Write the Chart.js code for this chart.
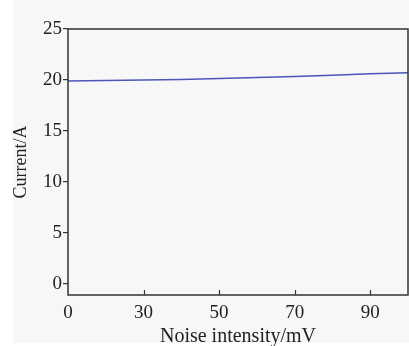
<!DOCTYPE html>
<html>
<head>
<meta charset="utf-8">
<script src="https://cdn.jsdelivr.net/npm/chart.js@4"></script>
<style>
  html, body { margin: 0; padding: 0; background: #ffffff; }
  #wrap { width: 409px; height: 346px; }
</style>
</head>
<body>
<div id="wrap"><canvas id="currentChart" width="409" height="346"></canvas></div>
<script>
// x tick labels sit on evenly spaced slots (slot index = position on axis)
const xTickLabels = ['0', '30', '50', '70', '90'];
const xSlots = [0, 0.5, 1, 1.5, 2, 2.5, 3, 3.5, 4, 4.5];
const currentValues = [19.9, 19.95, 20.0, 20.05, 20.15, 20.25, 20.35, 20.45, 20.6, 20.7];

const serif = '"Liberation Serif", "DejaVu Serif", serif';
const frameColor = '#333333';

// background panel + box frame + inward x ticks
const framePlugin = {
    id: 'frame',
    beforeDraw(chart) {
        const ctx = chart.ctx;
        ctx.save();
        ctx.fillStyle = '#f7f7f7';
        ctx.fillRect(13, 0, chart.width - 13, 343);
        ctx.restore();
    },
    afterDraw(chart) {
        const { ctx, chartArea: { left, top, right, bottom }, scales: { x } } = chart;
        ctx.save();
        ctx.strokeStyle = frameColor;
        ctx.lineWidth = 1.5;
        ctx.strokeRect(left, top, right - left, bottom - top);
        ctx.lineWidth = 1.2;
        xTickLabels.forEach((_, i) => {
            if (i === 0) return;
            const px = Math.round(x.getPixelForValue(i)) + 0.5;
            ctx.beginPath();
            ctx.moveTo(px, bottom);
            ctx.lineTo(px, bottom - 5);
            ctx.stroke();
        });
        ctx.restore();
    }
};

const ctx = document.getElementById('currentChart').getContext('2d');
new Chart(ctx, {
    type: 'line',
    data: {
        datasets: [{
            data: xSlots.map((s, i) => ({ x: s, y: currentValues[i] })),
            borderColor: '#4b56b8',
            borderWidth: 1.5,
            pointRadius: 0,
            tension: 0,
            fill: false
        }]
    },
    options: {
        responsive: false,
        animation: false,
        layout: { padding: { top: 29, right: 1, left: 10, bottom: 0 } },
        plugins: { legend: { display: false }, tooltip: { enabled: false } },
        scales: {
            x: {
                type: 'linear',
                min: 0,
                max: 4.5,
                afterFit(scale) { scale.height = 51; },
                grid: { display: false },
                border: { display: false },
                ticks: {
                    stepSize: 1,
                    includeBounds: false,
                    maxRotation: 0,
                    padding: -1,
                    color: '#222',
                    font: { family: serif, size: 19 },
                    callback: v => xTickLabels[v] ?? ''
                },
                title: {
                    display: true,
                    text: 'Noise intensity/mV',
                    color: '#222',
                    padding: { top: 0, bottom: -3 },
                    font: { family: serif, size: 20 }
                }
            },
            y: {
                min: -1.1,
                max: 25,
                afterFit(scale) { scale.width = 58; },
                grid: {
                    drawOnChartArea: false,
                    drawTicks: true,
                    tickLength: 5,
                    color: frameColor,
                    lineWidth: 1.2
                },
                border: { display: false },
                ticks: {
                    stepSize: 5,
                    includeBounds: false,
                    padding: 1,
                    color: '#222',
                    font: { family: serif, size: 19 }
                },
                title: {
                    display: true,
                    text: 'Current/A',
                    color: '#222',
                    padding: { top: 0, bottom: 1 },
                    font: { family: serif, size: 18 }
                }
            }
        }
    },
    plugins: [framePlugin]
});
</script>
</body>
</html>
